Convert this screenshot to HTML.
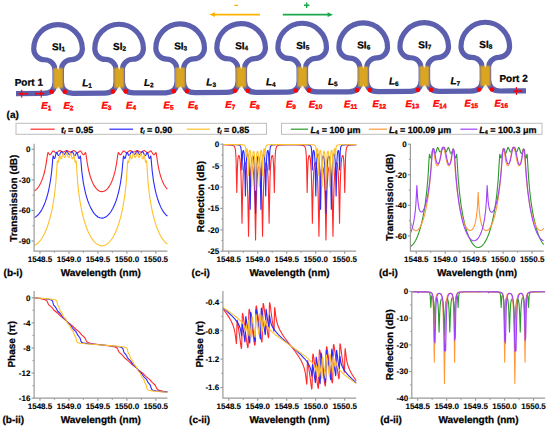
<!DOCTYPE html>
<html><head><meta charset="utf-8"><style>
html,body{margin:0;padding:0;background:#fff;}
svg{display:block;}
text{font-family:"Liberation Sans",sans-serif;font-weight:bold;fill:#000;stroke:#000;stroke-width:0.25px;text-rendering:geometricPrecision;}
.tk{font-size:8px;stroke-width:0.1px;}
.al{font-size:10px;}
.lg{font-size:9px;}
.si{font-size:10px;}
.lb{font-size:10px;}
.el{font-size:9.6px;font-style:italic;fill:#ff0000;stroke:#ff0000;stroke-width:0.35px;}
.pt{font-size:10px;}
</style></head><body>
<svg width="550" height="431" viewBox="0 0 550 431">
<defs>
<linearGradient id="goldv" x1="0" y1="0" x2="0" y2="1">
<stop offset="0" stop-color="#fff" stop-opacity="0"/>
<stop offset="0.1" stop-color="#fff" stop-opacity="1"/>
<stop offset="0.9" stop-color="#fff" stop-opacity="1"/>
<stop offset="1" stop-color="#fff" stop-opacity="0"/>
</linearGradient>
<linearGradient id="goldh" x1="0" y1="0" x2="1" y2="0">
<stop offset="0" stop-color="#daa520" stop-opacity="0.55"/>
<stop offset="0.22" stop-color="#daa520" stop-opacity="1"/>
<stop offset="0.78" stop-color="#daa520" stop-opacity="1"/>
<stop offset="1" stop-color="#daa520" stop-opacity="0.55"/>
</linearGradient>
<mask id="gm" maskContentUnits="objectBoundingBox"><rect width="1" height="1" fill="url(#goldv)"/></mask>
</defs>
<rect width="550" height="431" fill="#fff"/>
<g transform="rotate(-0.310 275 92.20)">
<path d="M16,92.2 L43.60,92.2 Q55.10,92.2 55.10,80.70 L55.10,68.80 A10.30,10.30 0 0 0 44.80,58.50 A10.80,10.80 0 0 1 34.00,47.70 A24.3,24.3 0 0 1 82.60,47.70 A10.80,10.80 0 0 1 71.80,58.50 A10.30,10.30 0 0 0 61.50,68.80 L61.50,80.70 Q61.50,92.2 73.00,92.2 L104.63,92.2 Q116.13,92.2 116.13,80.70 L116.13,68.80 A10.30,10.30 0 0 0 105.83,58.50 A10.80,10.80 0 0 1 95.03,47.70 A24.3,24.3 0 0 1 143.63,47.70 A10.80,10.80 0 0 1 132.83,58.50 A10.30,10.30 0 0 0 122.53,68.80 L122.53,80.70 Q122.53,92.2 134.03,92.2 L165.66,92.2 Q177.16,92.2 177.16,80.70 L177.16,68.80 A10.30,10.30 0 0 0 166.86,58.50 A10.80,10.80 0 0 1 156.06,47.70 A24.3,24.3 0 0 1 204.66,47.70 A10.80,10.80 0 0 1 193.86,58.50 A10.30,10.30 0 0 0 183.56,68.80 L183.56,80.70 Q183.56,92.2 195.06,92.2 L226.69,92.2 Q238.19,92.2 238.19,80.70 L238.19,68.80 A10.30,10.30 0 0 0 227.89,58.50 A10.80,10.80 0 0 1 217.09,47.70 A24.3,24.3 0 0 1 265.69,47.70 A10.80,10.80 0 0 1 254.89,58.50 A10.30,10.30 0 0 0 244.59,68.80 L244.59,80.70 Q244.59,92.2 256.09,92.2 L287.72,92.2 Q299.22,92.2 299.22,80.70 L299.22,68.80 A10.30,10.30 0 0 0 288.92,58.50 A10.80,10.80 0 0 1 278.12,47.70 A24.3,24.3 0 0 1 326.72,47.70 A10.80,10.80 0 0 1 315.92,58.50 A10.30,10.30 0 0 0 305.62,68.80 L305.62,80.70 Q305.62,92.2 317.12,92.2 L348.75,92.2 Q360.25,92.2 360.25,80.70 L360.25,68.80 A10.30,10.30 0 0 0 349.95,58.50 A10.80,10.80 0 0 1 339.15,47.70 A24.3,24.3 0 0 1 387.75,47.70 A10.80,10.80 0 0 1 376.95,58.50 A10.30,10.30 0 0 0 366.65,68.80 L366.65,80.70 Q366.65,92.2 378.15,92.2 L409.78,92.2 Q421.28,92.2 421.28,80.70 L421.28,68.80 A10.30,10.30 0 0 0 410.98,58.50 A10.80,10.80 0 0 1 400.18,47.70 A24.3,24.3 0 0 1 448.78,47.70 A10.80,10.80 0 0 1 437.98,58.50 A10.30,10.30 0 0 0 427.68,68.80 L427.68,80.70 Q427.68,92.2 439.18,92.2 L470.81,92.2 Q482.31,92.2 482.31,80.70 L482.31,68.80 A10.30,10.30 0 0 0 472.01,58.50 A10.80,10.80 0 0 1 461.21,47.70 A24.3,24.3 0 0 1 509.81,47.70 A10.80,10.80 0 0 1 499.01,58.50 A10.30,10.30 0 0 0 488.71,68.80 L488.71,80.70 Q488.71,92.2 500.21,92.2 L526,92.2" stroke="#5c5fae" stroke-width="5.2" fill="none" stroke-linejoin="round"/>
<rect x="52.90" y="65.90" width="10.8" height="22.3" fill="url(#goldh)" mask="url(#gm)"/>
<path d="M57.00,65.70 L59.60,65.70 L58.30,69.20 Z M56.80,89.70 L59.80,89.70 L58.30,85.20 Z" fill="#fdf6dc" opacity="0.85"/>
<circle cx="51.80" cy="90.60" r="2.3" fill="#ff0000"/>
<circle cx="64.80" cy="90.60" r="2.3" fill="#ff0000"/>
<rect x="113.93" y="65.90" width="10.8" height="22.3" fill="url(#goldh)" mask="url(#gm)"/>
<path d="M118.03,65.70 L120.63,65.70 L119.33,69.20 Z M117.83,89.70 L120.83,89.70 L119.33,85.20 Z" fill="#fdf6dc" opacity="0.85"/>
<circle cx="112.83" cy="90.60" r="2.3" fill="#ff0000"/>
<circle cx="125.83" cy="90.60" r="2.3" fill="#ff0000"/>
<rect x="174.96" y="65.90" width="10.8" height="22.3" fill="url(#goldh)" mask="url(#gm)"/>
<path d="M179.06,65.70 L181.66,65.70 L180.36,69.20 Z M178.86,89.70 L181.86,89.70 L180.36,85.20 Z" fill="#fdf6dc" opacity="0.85"/>
<circle cx="173.86" cy="90.60" r="2.3" fill="#ff0000"/>
<circle cx="186.86" cy="90.60" r="2.3" fill="#ff0000"/>
<rect x="235.99" y="65.90" width="10.8" height="22.3" fill="url(#goldh)" mask="url(#gm)"/>
<path d="M240.09,65.70 L242.69,65.70 L241.39,69.20 Z M239.89,89.70 L242.89,89.70 L241.39,85.20 Z" fill="#fdf6dc" opacity="0.85"/>
<circle cx="234.89" cy="90.60" r="2.3" fill="#ff0000"/>
<circle cx="247.89" cy="90.60" r="2.3" fill="#ff0000"/>
<rect x="297.02" y="65.90" width="10.8" height="22.3" fill="url(#goldh)" mask="url(#gm)"/>
<path d="M301.12,65.70 L303.72,65.70 L302.42,69.20 Z M300.92,89.70 L303.92,89.70 L302.42,85.20 Z" fill="#fdf6dc" opacity="0.85"/>
<circle cx="295.92" cy="90.60" r="2.3" fill="#ff0000"/>
<circle cx="308.92" cy="90.60" r="2.3" fill="#ff0000"/>
<rect x="358.05" y="65.90" width="10.8" height="22.3" fill="url(#goldh)" mask="url(#gm)"/>
<path d="M362.15,65.70 L364.75,65.70 L363.45,69.20 Z M361.95,89.70 L364.95,89.70 L363.45,85.20 Z" fill="#fdf6dc" opacity="0.85"/>
<circle cx="356.95" cy="90.60" r="2.3" fill="#ff0000"/>
<circle cx="369.95" cy="90.60" r="2.3" fill="#ff0000"/>
<rect x="419.08" y="65.90" width="10.8" height="22.3" fill="url(#goldh)" mask="url(#gm)"/>
<path d="M423.18,65.70 L425.78,65.70 L424.48,69.20 Z M422.98,89.70 L425.98,89.70 L424.48,85.20 Z" fill="#fdf6dc" opacity="0.85"/>
<circle cx="417.98" cy="90.60" r="2.3" fill="#ff0000"/>
<circle cx="430.98" cy="90.60" r="2.3" fill="#ff0000"/>
<rect x="480.11" y="65.90" width="10.8" height="22.3" fill="url(#goldh)" mask="url(#gm)"/>
<path d="M484.21,65.70 L486.81,65.70 L485.51,69.20 Z M484.01,89.70 L487.01,89.70 L485.51,85.20 Z" fill="#fdf6dc" opacity="0.85"/>
<circle cx="479.01" cy="90.60" r="2.3" fill="#ff0000"/>
<circle cx="492.01" cy="90.60" r="2.3" fill="#ff0000"/>
<path d="M18.3,92.4 H28.1" stroke="#ff0000" stroke-width="1.2"/>
<path d="M21.7,88.4 V96.4" stroke="#ff0000" stroke-width="1.1"/>
<path d="M20.3,92.4 H23.099999999999998" stroke="#ff0000" stroke-width="2.2"/>
<circle cx="27.1" cy="92.4" r="1.1" fill="#ff0000"/>
<path d="M35.0,92.4 H44.4" stroke="#ff0000" stroke-width="1.2"/>
<path d="M41.2,88.4 V96.4" stroke="#ff0000" stroke-width="1.1"/>
<path d="M39.800000000000004,92.4 H42.6" stroke="#ff0000" stroke-width="2.2"/>
<circle cx="35.9" cy="92.4" r="1.1" fill="#ff0000"/>
<path d="M513,92.4 H522.3" stroke="#ff0000" stroke-width="1.2"/>
<path d="M516.4,88.4 V96.4" stroke="#ff0000" stroke-width="1.1"/>
<path d="M515.0,92.4 H517.8" stroke="#ff0000" stroke-width="2.2"/>
<circle cx="520.5" cy="92.4" r="1.1" fill="#ff0000"/>
<text x="52.30" y="49.00" class="si">SI<tspan font-size="6.5" dy="1.0">1</tspan></text>
<text x="113.33" y="49.00" class="si">SI<tspan font-size="6.5" dy="1.0">2</tspan></text>
<text x="174.36" y="49.00" class="si">SI<tspan font-size="6.5" dy="1.0">3</tspan></text>
<text x="235.39" y="49.00" class="si">SI<tspan font-size="6.5" dy="1.0">4</tspan></text>
<text x="296.42" y="49.00" class="si">SI<tspan font-size="6.5" dy="1.0">5</tspan></text>
<text x="357.45" y="49.00" class="si">SI<tspan font-size="6.5" dy="1.0">6</tspan></text>
<text x="418.48" y="49.00" class="si">SI<tspan font-size="6.5" dy="1.0">7</tspan></text>
<text x="479.51" y="49.00" class="si">SI<tspan font-size="6.5" dy="1.0">8</tspan></text>
<text x="82.2" y="85.20" class="lb"><tspan font-style="italic">L</tspan><tspan font-size="6.5" dy="1.5">1</tspan></text>
<text x="144" y="85.20" class="lb"><tspan font-style="italic">L</tspan><tspan font-size="6.5" dy="1.5">2</tspan></text>
<text x="206.4" y="85.20" class="lb"><tspan font-style="italic">L</tspan><tspan font-size="6.5" dy="1.5">3</tspan></text>
<text x="266" y="85.20" class="lb"><tspan font-style="italic">L</tspan><tspan font-size="6.5" dy="1.5">4</tspan></text>
<text x="328" y="85.20" class="lb"><tspan font-style="italic">L</tspan><tspan font-size="6.5" dy="1.5">5</tspan></text>
<text x="389" y="85.20" class="lb"><tspan font-style="italic">L</tspan><tspan font-size="6.5" dy="1.5">6</tspan></text>
<text x="450.5" y="85.20" class="lb"><tspan font-style="italic">L</tspan><tspan font-size="6.5" dy="1.5">7</tspan></text>
<text x="41.2" y="107.60" class="el">E<tspan font-size="6.5" font-style="normal" dy="1.5">1</tspan></text>
<text x="63.3" y="107.60" class="el">E<tspan font-size="6.5" font-style="normal" dy="1.5">2</tspan></text>
<text x="101.3" y="107.60" class="el">E<tspan font-size="6.5" font-style="normal" dy="1.5">3</tspan></text>
<text x="125.9" y="107.60" class="el">E<tspan font-size="6.5" font-style="normal" dy="1.5">4</tspan></text>
<text x="163.5" y="107.60" class="el">E<tspan font-size="6.5" font-style="normal" dy="1.5">5</tspan></text>
<text x="188.0" y="107.60" class="el">E<tspan font-size="6.5" font-style="normal" dy="1.5">6</tspan></text>
<text x="225.2" y="107.60" class="el">E<tspan font-size="6.5" font-style="normal" dy="1.5">7</tspan></text>
<text x="249.6" y="107.60" class="el">E<tspan font-size="6.5" font-style="normal" dy="1.5">8</tspan></text>
<text x="285.8" y="107.60" class="el">E<tspan font-size="6.5" font-style="normal" dy="1.5">9</tspan></text>
<text x="308.6" y="107.60" class="el">E<tspan font-size="6.5" font-style="normal" dy="1.5">10</tspan></text>
<text x="344.0" y="107.60" class="el">E<tspan font-size="6.5" font-style="normal" dy="1.5">11</tspan></text>
<text x="372.4" y="107.60" class="el">E<tspan font-size="6.5" font-style="normal" dy="1.5">12</tspan></text>
<text x="405.3" y="107.60" class="el">E<tspan font-size="6.5" font-style="normal" dy="1.5">13</tspan></text>
<text x="432.8" y="107.60" class="el">E<tspan font-size="6.5" font-style="normal" dy="1.5">14</tspan></text>
<text x="464.5" y="107.60" class="el">E<tspan font-size="6.5" font-style="normal" dy="1.5">15</tspan></text>
<text x="494.3" y="107.60" class="el">E<tspan font-size="6.5" font-style="normal" dy="1.5">16</tspan></text>
<text x="14.7" y="84.50" class="pt">Port 1</text>
<text x="499.5" y="83.20" class="pt">Port 2</text>
</g>
<text x="6.6" y="117.8" class="al">(a)</text>
<path d="M213,14.6 H260" stroke="#ffb300" stroke-width="1.8"/><path d="M209.3,14.6 L215,12.2 L215,17 Z" fill="#ffb300"/>
<path d="M234.4,5.4 H238" stroke="#ffb300" stroke-width="1.4"/>
<path d="M282.8,14.7 H329" stroke="#1aa84a" stroke-width="1.8"/><path d="M333,14.7 L327.6,12.3 L327.6,17.1 Z" fill="#1aa84a"/>
<path d="M304,5.3 H309.4 M306.7,2.6 V8" stroke="#1aa84a" stroke-width="1.4"/>
<path d="M34.20,191.00 L35.34,190.30 L36.47,189.35 L37.57,188.15 L38.63,186.74 L40.64,183.20 L42.45,178.85 L43.90,174.25 L45.16,169.02 L46.20,163.34 L47.51,154.39 L47.94,152.71 L48.11,152.57 L48.30,152.69 L49.42,154.51 L49.74,154.72 L50.05,154.75 L50.44,154.57 L50.86,154.14 L52.40,151.59 L53.04,150.97 L53.63,151.02 L55.25,152.40 L55.74,152.64 L56.24,152.70 L57.08,152.42 L58.93,150.89 L59.75,150.59 L60.49,150.79 L62.24,151.89 L63.16,152.10 L64.13,151.86 L65.85,150.79 L66.54,150.53 L67.37,150.65 L69.31,151.83 L70.32,152.10 L71.21,151.91 L73.06,150.77 L73.86,150.60 L74.62,150.93 L76.40,152.41 L77.32,152.70 L78.16,152.46 L79.72,151.12 L80.33,150.93 L80.68,151.10 L81.04,151.50 L82.70,154.22 L83.12,154.61 L83.51,154.76 L83.83,154.69 L84.15,154.45 L85.16,152.74 L85.34,152.58 L85.50,152.62 L85.73,153.12 L85.97,154.25 L87.42,164.07 L88.67,170.49 L90.19,176.24 L91.97,181.20 L93.04,183.55 L94.18,185.64 L95.37,187.42 L96.60,188.90 L97.88,190.07 L99.18,190.93 L100.50,191.45 L101.83,191.64 L103.17,191.50 L104.51,191.02 L105.82,190.21 L107.11,189.07 L108.37,187.60 L109.57,185.84 L110.73,183.76 L111.82,181.42 L113.63,176.44 L115.18,170.64 L116.44,164.19 L117.91,154.20 L118.16,153.09 L118.41,152.60 L118.72,152.75 L119.71,154.42 L120.03,154.68 L120.36,154.76 L120.75,154.62 L121.17,154.23 L122.85,151.50 L123.23,151.09 L123.59,150.93 L124.18,151.13 L125.72,152.45 L126.57,152.70 L127.48,152.41 L129.26,150.93 L130.03,150.60 L130.83,150.76 L132.70,151.91 L133.56,152.10 L134.59,151.83 L136.53,150.65 L137.36,150.53 L138.05,150.79 L139.79,151.87 L140.76,152.10 L141.64,151.90 L143.45,150.78 L144.22,150.59 L145.02,150.91 L146.84,152.42 L147.75,152.70 L148.61,152.44 L150.13,151.13 L150.69,150.92 L151.05,151.06 L151.44,151.48 L153.15,154.24 L153.57,154.63 L153.98,154.76 L154.31,154.67 L154.63,154.39 L155.57,152.78 L155.86,152.58 L156.14,153.03 L156.41,154.26 L157.70,163.08 L158.64,168.32 L159.63,172.65 L160.74,176.59 L162.20,180.69 L163.81,184.18 L165.55,187.05 L167.40,189.26" stroke="#ff2a2a" stroke-width="1.1" fill="none" stroke-linejoin="round"/>
<path d="M223.00,144.76 L229.36,144.93 L232.50,145.32 L233.42,145.67 L234.10,146.18 L234.61,146.91 L235.00,147.92 L235.34,149.45 L235.61,151.62 L236.03,158.57 L236.78,192.55 L237.33,169.91 L237.77,160.63 L238.10,157.50 L238.52,155.79 L238.77,155.49 L239.01,155.57 L239.52,156.85 L239.97,159.44 L240.34,163.14 L240.97,174.72 L241.37,189.27 L242.00,223.16 L242.69,188.67 L243.31,172.88 L243.78,167.22 L244.33,163.81 L244.64,162.89 L244.98,162.56 L245.33,162.84 L245.66,163.71 L246.18,166.43 L246.64,170.68 L247.38,183.56 L247.87,200.30 L248.54,236.22 L249.28,198.17 L249.99,179.40 L250.49,172.67 L251.10,168.28 L251.44,167.03 L251.80,166.38 L251.97,166.31 L252.16,166.41 L252.52,167.11 L253.07,169.62 L253.55,173.62 L254.35,186.63 L254.88,204.27 L255.55,239.95 L256.20,205.00 L256.68,188.47 L257.40,175.30 L257.83,170.97 L258.33,168.01 L258.70,166.79 L259.08,166.32 L259.46,166.58 L259.83,167.59 L260.50,171.69 L261.05,178.40 L261.45,186.63 L261.80,197.50 L262.55,236.21 L263.19,201.78 L263.61,186.36 L264.23,173.55 L264.61,169.01 L265.03,165.69 L265.38,163.94 L265.74,162.90 L266.12,162.56 L266.49,162.97 L266.83,164.03 L267.14,165.81 L267.68,171.27 L268.06,178.13 L268.37,187.40 L269.11,223.15 L269.97,179.71 L270.40,168.60 L270.95,161.00 L271.49,157.27 L271.79,156.14 L272.11,155.55 L272.41,155.54 L272.70,156.11 L273.18,158.92 L273.72,168.28 L274.33,192.53 L274.86,165.51 L275.25,154.85 L275.54,151.16 L275.90,148.73 L276.40,147.11 L277.09,146.09 L277.73,145.65 L278.58,145.33 L281.35,144.95 L287.34,144.77 L296.01,144.80 L300.10,144.95 L302.49,145.23 L303.92,145.74 L304.82,146.62 L305.35,147.84 L305.74,149.66 L306.29,156.07 L306.63,165.86 L307.16,192.55 L307.70,170.31 L308.07,161.62 L308.36,158.34 L308.71,156.34 L309.13,155.50 L309.36,155.54 L309.59,155.90 L310.12,157.90 L310.56,161.34 L311.27,172.77 L311.74,188.41 L312.37,223.16 L313.05,189.47 L313.63,173.98 L314.05,168.27 L314.56,164.50 L314.85,163.34 L315.15,162.70 L315.47,162.58 L315.81,163.02 L316.38,165.25 L316.89,169.15 L317.33,174.62 L317.70,181.83 L318.25,199.66 L318.93,236.22 L319.66,198.82 L320.32,180.49 L320.80,173.62 L321.38,168.92 L321.70,167.46 L322.05,166.57 L322.39,166.32 L322.74,166.68 L323.33,168.81 L323.86,172.66 L324.32,178.35 L324.71,185.72 L325.26,203.15 L325.95,239.95 L326.62,204.27 L327.14,187.00 L327.92,173.96 L328.40,169.83 L328.94,167.26 L329.30,166.47 L329.49,166.32 L329.68,166.36 L330.04,166.94 L330.39,168.18 L330.99,172.45 L331.51,179.26 L332.22,197.78 L332.98,236.22 L333.63,200.87 L334.12,183.90 L334.84,171.03 L335.29,166.75 L335.79,163.99 L336.12,162.99 L336.47,162.57 L336.81,162.78 L337.15,163.63 L337.71,166.92 L338.19,172.53 L338.83,188.35 L339.54,223.16 L340.14,189.81 L340.55,175.05 L341.14,163.68 L341.50,159.90 L341.92,157.24 L342.45,155.67 L342.71,155.48 L342.97,155.70 L343.40,157.30 L343.75,160.38 L344.20,169.71 L344.75,192.54 L345.49,159.19 L345.86,152.37 L346.41,148.41 L346.76,147.28 L347.21,146.46 L347.79,145.88 L348.57,145.47 L349.63,145.20 L351.12,145.00 L356.20,144.79" stroke="#ff2a2a" stroke-width="1.1" fill="none" stroke-linejoin="round"/>
<path d="M34.20,297.78 L39.53,298.50 L42.93,299.11 L45.09,299.72 L46.42,300.47 L47.24,301.49 L48.32,303.92 L48.90,304.87 L51.79,307.45 L54.34,310.54 L58.10,313.55 L61.46,316.87 L65.23,319.73 L68.44,322.80 L72.21,325.66 L75.59,329.01 L78.95,331.64 L81.73,334.96 L84.57,337.47 L85.16,338.41 L86.37,341.08 L86.89,341.74 L87.54,342.24 L89.46,343.00 L92.76,343.69 L108.02,345.71 L112.32,346.39 L114.97,347.03 L116.57,347.78 L117.12,348.26 L117.57,348.88 L118.71,351.44 L119.29,352.37 L122.16,354.91 L124.94,358.23 L128.29,360.85 L131.70,364.21 L135.45,367.06 L138.69,370.14 L142.45,373.00 L145.81,376.32 L149.59,379.34 L152.14,382.42 L155.04,384.99 L155.61,385.93 L156.69,388.36 L157.48,389.36 L158.64,390.06 L160.46,390.63 L163.26,391.18 L167.40,391.79" stroke="#ff2a2a" stroke-width="1.1" fill="none" stroke-linejoin="round"/>
<path d="M223.00,308.96 L226.53,313.65 L229.18,317.60 L231.25,321.26 L232.85,324.83 L233.97,328.26 L234.83,332.00 L235.39,335.61 L236.36,343.73 L236.61,340.33 L237.00,322.45 L237.13,320.48 L237.29,320.13 L239.61,335.91 L241.01,346.90 L241.39,348.57 L241.60,347.39 L241.76,343.77 L242.27,316.78 L242.44,313.99 L242.55,313.46 L242.68,313.41 L243.20,316.09 L247.29,345.29 L247.63,347.18 L247.86,347.73 L248.09,346.67 L248.26,343.33 L248.76,315.43 L248.93,310.98 L249.16,309.26 L249.28,309.23 L249.42,309.60 L249.78,311.50 L254.16,342.16 L254.56,344.51 L254.85,345.24 L255.10,344.07 L255.27,340.70 L255.76,312.55 L255.94,307.91 L256.16,306.06 L256.29,305.94 L256.43,306.25 L256.82,308.25 L261.19,338.91 L261.60,341.27 L261.87,341.98 L262.12,340.81 L262.29,337.35 L262.77,309.99 L263.10,303.76 L263.22,303.46 L263.37,303.63 L263.73,305.40 L267.94,335.38 L268.26,337.26 L268.49,337.85 L268.71,336.69 L268.88,332.85 L269.37,306.27 L269.53,303.40 L269.74,302.67 L270.10,304.37 L271.49,315.27 L273.80,331.11 L273.89,331.14 L273.98,330.74 L274.11,328.68 L274.50,310.78 L274.61,308.22 L274.76,307.55 L275.80,316.33 L276.63,321.00 L277.92,325.53 L279.73,329.79 L281.84,333.60 L284.61,337.76 L294.78,351.04 L298.11,355.69 L300.81,360.07 L302.80,364.18 L304.12,367.88 L305.11,371.91 L305.76,375.97 L306.71,384.14 L306.86,383.56 L306.97,381.13 L307.38,362.84 L307.51,360.91 L307.58,360.58 L307.67,360.59 L309.99,376.40 L311.40,387.50 L311.77,389.09 L311.98,387.98 L312.16,383.95 L312.63,357.88 L312.79,354.86 L313.00,353.92 L313.23,354.51 L313.55,356.41 L317.76,386.40 L318.12,388.18 L318.27,388.37 L318.38,388.09 L318.57,386.07 L318.73,381.39 L319.19,354.62 L319.37,351.09 L319.61,349.87 L319.89,350.56 L320.29,352.91 L324.68,383.70 L325.07,385.69 L325.22,386.00 L325.35,385.88 L325.56,384.01 L325.74,379.35 L326.23,351.24 L326.40,347.89 L326.65,346.72 L326.94,347.46 L327.34,349.81 L331.73,380.60 L332.09,382.49 L332.24,382.85 L332.35,382.81 L332.57,381.25 L332.75,377.06 L333.25,348.68 L333.43,345.40 L333.66,344.37 L333.89,344.94 L334.22,346.83 L338.33,376.17 L338.86,378.82 L338.99,378.75 L339.09,378.20 L339.26,375.32 L339.75,348.86 L339.93,344.81 L340.14,343.69 L340.52,345.38 L341.91,356.28 L344.24,372.22 L344.33,372.25 L344.41,371.83 L344.54,369.73 L344.94,351.84 L345.18,348.66 L346.60,359.80 L347.34,363.31 L348.28,366.49 L349.60,369.80 L351.31,373.17 L353.46,376.72 L356.20,380.66" stroke="#ff2a2a" stroke-width="1.1" fill="none" stroke-linejoin="round"/>
<path d="M34.20,217.60 L35.94,216.67 L37.65,215.28 L39.31,213.44 L40.92,211.16 L42.47,208.45 L43.93,205.35 L45.30,201.88 L46.59,198.02 L47.72,194.05 L48.77,189.73 L50.50,180.46 L51.66,171.61 L52.86,157.85 L53.14,156.06 L53.24,156.00 L53.34,156.18 L53.98,158.16 L54.19,158.45 L54.43,158.49 L54.73,158.18 L55.06,157.43 L56.16,153.22 L56.57,152.37 L56.74,152.38 L56.95,152.63 L58.06,155.04 L58.41,155.40 L58.77,155.50 L59.15,155.32 L59.55,154.82 L60.81,152.12 L61.27,151.52 L61.53,151.52 L61.82,151.77 L63.26,154.10 L63.63,154.40 L64.01,154.49 L64.40,154.36 L64.81,154.00 L66.20,151.72 L66.75,151.30 L67.30,151.71 L68.70,154.01 L69.09,154.36 L69.48,154.49 L69.86,154.40 L70.25,154.09 L71.67,151.78 L71.96,151.52 L72.22,151.52 L72.68,152.12 L73.94,154.82 L74.35,155.32 L74.72,155.50 L75.09,155.41 L75.43,155.04 L76.55,152.64 L76.75,152.38 L76.93,152.37 L77.33,153.21 L78.43,157.41 L78.76,158.17 L79.08,158.49 L79.31,158.44 L79.53,158.15 L80.17,156.16 L80.27,156.00 L80.36,156.05 L80.63,157.79 L81.92,172.34 L83.27,182.12 L84.21,187.23 L85.28,192.06 L86.48,196.58 L87.80,200.74 L89.28,204.64 L90.87,208.11 L92.55,211.09 L94.31,213.57 L96.14,215.53 L98.01,216.94 L99.92,217.81 L101.84,218.12 L103.78,217.86 L105.69,217.04 L107.59,215.66 L109.43,213.74 L111.21,211.27 L112.90,208.31 L114.51,204.85 L116.00,200.96 L117.32,196.85 L118.54,192.32 L119.62,187.49 L120.58,182.34 L121.94,172.55 L123.26,157.75 L123.55,156.02 L123.73,156.21 L124.37,158.18 L124.60,158.47 L124.85,158.47 L125.15,158.12 L125.49,157.32 L126.53,153.30 L126.90,152.42 L127.09,152.36 L127.31,152.59 L128.50,155.10 L128.84,155.43 L129.21,155.50 L129.57,155.30 L129.93,154.84 L131.25,152.04 L131.77,151.49 L132.26,151.83 L133.61,154.04 L134.00,154.38 L134.39,154.49 L134.81,154.36 L135.23,153.97 L136.56,151.77 L137.02,151.32 L137.33,151.34 L137.65,151.64 L139.15,154.06 L139.53,154.38 L139.91,154.49 L140.28,154.40 L140.67,154.07 L142.06,151.80 L142.34,151.53 L142.58,151.50 L143.08,152.08 L144.38,154.85 L144.78,155.33 L145.18,155.51 L145.52,155.39 L145.86,155.04 L146.97,152.64 L147.17,152.38 L147.36,152.38 L147.77,153.26 L148.78,157.19 L149.32,158.35 L149.58,158.51 L149.84,158.34 L150.62,156.10 L150.75,156.01 L150.87,156.32 L152.23,171.22 L153.46,180.63 L155.25,190.10 L156.31,194.40 L157.48,198.45 L159.65,204.49 L160.83,207.13 L162.06,209.51 L163.33,211.61 L164.65,213.43 L166.01,214.97 L167.40,216.21" stroke="#2a2aff" stroke-width="1.1" fill="none" stroke-linejoin="round"/>
<path d="M223.00,144.57 L232.25,144.64 L236.94,144.82 L239.17,145.19 L239.81,145.49 L240.27,145.94 L240.63,146.63 L240.90,147.59 L241.27,150.88 L241.91,169.91 L242.56,153.45 L242.97,150.84 L243.24,150.48 L243.53,150.82 L243.86,152.09 L244.14,154.12 L244.59,161.12 L245.40,195.97 L245.93,171.47 L246.34,161.12 L246.64,157.36 L247.00,155.06 L247.45,154.02 L247.70,154.05 L247.93,154.43 L248.34,156.01 L248.70,158.79 L249.25,167.66 L249.61,179.71 L250.19,209.35 L250.80,179.11 L251.29,165.69 L251.64,160.95 L252.07,157.76 L252.59,156.22 L252.87,156.12 L253.14,156.47 L253.59,158.11 L253.97,160.90 L254.56,170.16 L254.95,182.85 L255.55,213.36 L256.44,172.39 L256.95,162.85 L257.27,159.65 L257.63,157.48 L257.92,156.53 L258.23,156.12 L258.53,156.26 L258.82,156.92 L259.33,159.73 L259.73,164.44 L260.27,177.90 L260.92,209.33 L261.73,170.83 L262.15,161.87 L262.70,156.37 L263.22,154.31 L263.50,154.00 L263.77,154.16 L264.25,155.84 L264.64,159.37 L265.12,169.78 L265.71,195.97 L266.35,165.77 L266.64,158.48 L266.98,153.89 L267.32,151.67 L267.69,150.59 L267.88,150.49 L268.07,150.69 L268.39,152.06 L268.74,156.67 L269.20,169.90 L269.62,155.26 L269.90,150.01 L270.37,146.91 L270.75,146.05 L271.29,145.50 L271.97,145.17 L272.96,144.95 L276.58,144.70 L298.94,144.60 L304.70,144.69 L307.89,144.87 L309.59,145.20 L310.55,145.81 L310.94,146.45 L311.23,147.37 L311.64,150.62 L312.29,169.91 L312.75,156.60 L313.10,152.03 L313.42,150.68 L313.60,150.49 L313.81,150.61 L314.20,151.82 L314.53,154.18 L314.86,158.77 L315.14,165.80 L315.78,195.97 L316.33,171.35 L316.69,161.82 L316.96,158.04 L317.30,155.52 L317.70,154.19 L317.92,153.99 L318.15,154.11 L318.60,155.35 L318.99,157.83 L319.60,166.60 L319.99,178.96 L320.58,209.35 L321.19,179.29 L321.65,166.31 L321.99,161.47 L322.39,158.18 L322.87,156.41 L323.13,156.12 L323.41,156.24 L323.88,157.56 L324.29,160.15 L324.94,169.58 L325.35,182.38 L325.95,213.36 L326.53,183.49 L326.92,170.52 L327.52,161.06 L327.90,158.20 L328.33,156.54 L328.60,156.14 L328.89,156.20 L329.17,156.73 L329.42,157.66 L329.85,160.75 L330.21,165.58 L330.70,178.83 L331.33,209.35 L331.89,180.12 L332.25,167.90 L332.80,158.90 L333.15,156.16 L333.56,154.50 L333.79,154.08 L334.03,154.01 L334.27,154.30 L334.48,154.94 L334.86,157.23 L335.16,160.87 L335.57,170.87 L336.13,195.97 L336.91,161.59 L337.35,154.46 L337.62,152.29 L337.96,150.91 L338.26,150.48 L338.54,150.78 L338.96,153.35 L339.62,169.91 L340.24,151.06 L340.61,147.73 L340.85,146.75 L341.19,146.04 L341.61,145.58 L342.20,145.24 L344.17,144.86 L348.24,144.67 L356.20,144.58" stroke="#2a2aff" stroke-width="1.1" fill="none" stroke-linejoin="round"/>
<path d="M34.20,297.78 L42.68,298.55 L47.69,299.15 L50.55,299.75 L51.40,300.09 L51.99,300.50 L52.66,301.56 L53.34,304.10 L53.70,305.02 L55.73,307.42 L57.45,310.80 L58.07,311.52 L60.25,313.50 L62.64,317.04 L65.63,319.71 L67.99,323.03 L70.99,325.69 L73.38,329.24 L75.93,331.63 L76.48,332.50 L77.78,335.19 L79.76,337.51 L80.13,338.38 L80.95,341.29 L81.38,341.97 L81.99,342.44 L82.90,342.83 L84.22,343.16 L88.64,343.81 L110.88,345.81 L116.93,346.47 L120.36,347.07 L121.40,347.40 L122.13,347.78 L122.62,348.25 L122.98,348.89 L123.75,351.66 L124.11,352.55 L126.11,354.88 L127.41,357.57 L127.96,358.44 L130.51,360.82 L132.91,364.39 L135.91,367.05 L138.27,370.36 L141.27,373.02 L143.66,376.56 L145.84,378.56 L146.46,379.27 L148.20,382.67 L150.23,385.06 L150.58,385.94 L151.27,388.52 L151.89,389.53 L152.44,389.94 L153.21,390.27 L155.73,390.84 L160.16,391.41 L167.40,392.09" stroke="#2a2aff" stroke-width="1.1" fill="none" stroke-linejoin="round"/>
<path d="M223.00,307.87 L228.31,312.48 L232.18,316.14 L235.18,319.39 L237.43,322.38 L239.00,325.12 L240.10,327.94 L240.79,330.82 L241.58,335.92 L241.76,334.15 L242.07,324.69 L242.27,323.41 L243.67,332.47 L244.70,340.87 L244.93,341.99 L245.08,341.22 L245.21,338.31 L245.62,319.07 L245.73,317.12 L245.89,316.57 L248.24,332.86 L249.35,341.70 L249.65,343.04 L249.83,342.11 L249.96,339.40 L250.38,317.12 L250.51,313.75 L250.68,312.32 L250.84,312.51 L251.04,313.62 L254.62,340.02 L255.00,341.68 L255.17,340.77 L255.32,337.81 L255.74,314.97 L256.04,309.61 L256.13,309.51 L256.21,309.69 L256.43,310.85 L260.01,337.25 L260.37,338.92 L260.54,338.07 L260.69,335.14 L261.09,313.41 L261.35,308.36 L261.43,308.16 L261.51,308.25 L261.71,309.27 L262.89,318.53 L264.97,333.53 L265.23,334.65 L265.38,333.98 L265.49,331.86 L265.90,312.57 L266.01,310.04 L266.17,309.23 L267.42,318.72 L268.84,327.83 L269.04,326.38 L269.33,317.23 L269.52,315.31 L270.43,321.05 L271.40,324.48 L272.14,326.21 L273.05,327.91 L275.50,331.38 L278.38,334.62 L282.17,338.31 L296.27,350.62 L300.92,354.89 L304.66,358.77 L307.39,362.22 L309.16,365.16 L310.39,368.16 L311.16,371.25 L311.95,376.45 L312.14,374.79 L312.45,365.32 L312.65,363.95 L314.07,373.09 L315.31,382.58 L315.47,381.76 L315.59,379.24 L315.99,359.96 L316.11,357.84 L316.25,357.17 L316.52,358.29 L318.60,373.30 L319.77,382.56 L319.98,383.61 L320.06,383.72 L320.13,383.54 L320.41,378.11 L320.80,356.94 L320.95,353.89 L321.12,352.97 L321.50,354.69 L325.06,381.02 L325.27,382.22 L325.36,382.44 L325.45,382.39 L325.62,380.89 L325.75,377.50 L326.19,354.15 L326.33,351.20 L326.51,350.30 L326.88,351.96 L330.46,378.39 L330.66,379.52 L330.82,379.75 L330.99,378.43 L331.14,374.69 L331.56,352.50 L331.69,349.90 L331.86,349.04 L332.15,350.32 L333.27,359.17 L335.63,375.59 L335.79,375.07 L335.92,372.78 L336.31,353.99 L336.44,351.00 L336.58,350.20 L336.81,351.29 L337.86,359.80 L339.26,368.85 L339.46,367.49 L339.77,358.03 L339.96,356.35 L340.71,361.31 L341.33,364.03 L342.32,366.74 L343.71,369.37 L345.70,372.22 L348.34,375.29 L351.73,378.72 L356.20,382.84" stroke="#2a2aff" stroke-width="1.1" fill="none" stroke-linejoin="round"/>
<path d="M34.20,245.39 L36.40,244.26 L38.57,242.47 L40.67,240.04 L42.70,236.97 L44.64,233.30 L46.46,229.07 L48.17,224.30 L49.76,218.98 L51.18,213.33 L52.46,207.29 L53.60,200.78 L54.59,193.96 L55.99,180.66 L57.32,160.92 L57.38,160.84 L57.45,160.93 L57.93,162.42 L58.12,162.46 L58.31,162.14 L58.71,160.37 L59.38,155.71 L59.59,155.00 L59.83,155.35 L60.56,158.26 L60.83,158.74 L61.10,158.85 L61.40,158.52 L61.71,157.76 L62.58,154.04 L62.85,153.33 L63.03,153.33 L63.20,153.66 L64.18,156.92 L64.49,157.41 L64.79,157.55 L65.11,157.33 L65.43,156.74 L66.41,153.41 L66.75,152.88 L67.08,153.40 L68.06,156.74 L68.38,157.33 L68.70,157.55 L69.01,157.42 L69.31,156.93 L70.29,153.67 L70.47,153.33 L70.64,153.33 L70.92,154.04 L71.80,157.80 L72.10,158.55 L72.41,158.85 L72.67,158.74 L72.93,158.27 L73.67,155.36 L73.90,154.99 L74.13,155.77 L74.78,160.35 L75.19,162.13 L75.38,162.46 L75.56,162.43 L76.06,160.91 L76.13,160.84 L76.19,160.96 L77.75,183.42 L78.65,191.85 L79.76,199.91 L81.17,207.92 L82.79,215.31 L84.61,222.02 L86.64,228.03 L88.29,232.05 L90.03,235.59 L91.85,238.64 L93.73,241.16 L95.67,243.15 L97.67,244.61 L99.70,245.51 L101.74,245.85 L102.94,245.79 L104.13,245.53 L105.32,245.08 L106.49,244.44 L108.81,242.59 L111.07,240.00 L113.24,236.68 L115.29,232.69 L117.23,228.04 L119.04,222.75 L120.45,217.85 L121.74,212.57 L122.91,206.93 L123.95,200.99 L125.14,192.66 L126.11,183.72 L126.77,175.41 L127.64,161.28 L127.82,160.88 L128.37,162.47 L128.54,162.44 L128.71,162.10 L129.08,160.54 L129.93,155.09 L130.06,154.99 L130.19,155.25 L130.97,158.29 L131.22,158.74 L131.46,158.86 L131.77,158.58 L132.07,157.86 L132.99,154.01 L133.29,153.30 L133.45,153.35 L133.61,153.69 L134.56,156.88 L134.87,157.39 L135.19,157.55 L135.49,157.36 L135.79,156.83 L136.85,153.32 L137.04,152.95 L137.23,152.91 L137.52,153.49 L138.46,156.70 L138.81,157.35 L139.14,157.56 L139.46,157.37 L139.76,156.83 L140.69,153.72 L140.99,153.29 L141.31,153.97 L142.25,157.92 L142.57,158.63 L142.87,158.86 L143.12,158.70 L143.37,158.21 L144.09,155.33 L144.32,155.00 L144.58,155.97 L145.26,160.71 L145.61,162.14 L145.78,162.45 L145.96,162.46 L146.49,160.87 L146.65,161.19 L147.85,179.72 L149.19,192.77 L150.11,199.42 L151.17,205.69 L152.36,211.59 L153.67,217.12 L155.08,222.12 L156.58,226.69 L158.19,230.82 L159.89,234.47 L161.67,237.66 L163.52,240.34 L165.43,242.51 L167.40,244.15" stroke="#ffc12a" stroke-width="1.1" fill="none" stroke-linejoin="round"/>
<path d="M223.00,144.50 L241.18,144.67 L243.72,144.94 L244.40,145.19 L244.85,145.57 L245.28,146.50 L245.56,148.15 L246.06,157.29 L246.44,151.13 L246.67,149.14 L246.87,148.59 L247.09,148.68 L247.50,150.61 L247.90,157.33 L248.38,175.27 L249.06,154.67 L249.47,151.07 L249.74,150.32 L249.89,150.23 L250.05,150.35 L250.33,151.16 L250.60,152.76 L251.00,158.41 L251.72,186.63 L252.20,165.90 L252.52,157.66 L253.04,152.49 L253.39,151.43 L253.58,151.30 L253.77,151.44 L254.08,152.35 L254.36,154.06 L254.79,160.18 L255.55,190.31 L256.24,161.59 L256.59,155.51 L257.05,152.17 L257.26,151.57 L257.47,151.31 L257.69,151.41 L257.89,151.85 L258.24,153.67 L258.52,156.70 L258.86,164.80 L259.38,186.63 L260.01,160.58 L260.30,154.94 L260.66,151.67 L261.01,150.43 L261.19,150.24 L261.37,150.33 L261.69,151.34 L261.95,153.47 L262.25,159.19 L262.71,175.28 L263.22,156.62 L263.65,150.18 L264.05,148.62 L264.25,148.62 L264.44,149.19 L265.03,157.30 L265.39,150.04 L265.64,147.38 L266.06,145.86 L266.38,145.43 L266.84,145.12 L268.72,144.75 L272.98,144.58 L301.59,144.52 L312.01,144.69 L313.95,144.91 L314.98,145.32 L315.56,146.15 L315.91,147.80 L316.46,157.30 L317.05,149.20 L317.24,148.62 L317.46,148.64 L317.86,150.38 L318.28,156.93 L318.77,175.27 L319.24,159.31 L319.56,153.36 L319.82,151.29 L320.13,150.32 L320.32,150.24 L320.51,150.47 L320.84,151.72 L321.21,155.05 L321.50,160.78 L322.12,186.64 L322.61,165.62 L322.90,158.04 L323.39,152.77 L323.71,151.58 L323.88,151.33 L324.07,151.34 L324.42,152.07 L324.71,153.64 L325.17,159.64 L325.95,190.31 L326.71,160.19 L327.14,154.07 L327.42,152.35 L327.74,151.44 L327.92,151.30 L328.11,151.43 L328.46,152.48 L328.98,157.59 L329.30,165.73 L329.79,186.63 L330.50,158.56 L330.89,152.94 L331.15,151.26 L331.44,150.39 L331.60,150.24 L331.75,150.29 L332.02,150.97 L332.44,154.51 L333.12,175.28 L333.63,156.87 L334.02,150.60 L334.42,148.68 L334.64,148.59 L334.84,149.13 L335.08,151.11 L335.45,157.30 L335.94,148.32 L336.21,146.62 L336.63,145.63 L337.05,145.24 L337.67,144.98 L339.98,144.69 L356.20,144.50" stroke="#ffc12a" stroke-width="1.1" fill="none" stroke-linejoin="round"/>
<path d="M34.20,297.78 L45.36,298.60 L51.56,299.20 L54.85,299.78 L55.76,300.11 L56.37,300.54 L56.93,301.60 L57.68,305.06 L59.04,307.39 L60.19,310.91 L62.17,313.43 L63.32,316.28 L63.78,317.15 L65.99,319.65 L67.59,323.15 L69.82,325.67 L71.42,329.41 L73.23,331.62 L74.46,335.31 L75.83,337.65 L76.69,341.43 L77.07,342.06 L77.65,342.51 L78.60,342.88 L80.08,343.20 L85.24,343.82 L113.28,345.88 L120.64,346.53 L124.60,347.11 L125.73,347.42 L126.48,347.79 L126.90,348.20 L127.21,348.76 L128.06,352.50 L129.44,354.87 L130.65,358.53 L132.48,360.76 L134.07,364.46 L136.30,366.98 L137.91,370.50 L140.14,373.01 L141.73,376.71 L143.73,379.25 L144.87,382.77 L146.23,385.09 L146.97,388.49 L147.52,389.57 L148.09,390.00 L148.93,390.33 L151.92,390.89 L157.55,391.47 L167.40,392.21" stroke="#ffc12a" stroke-width="1.1" fill="none" stroke-linejoin="round"/>
<path d="M223.00,307.46 L229.65,312.07 L234.42,315.57 L238.10,318.54 L240.87,321.12 L242.84,323.42 L244.20,325.61 L245.02,327.72 L245.80,331.03 L245.95,330.28 L246.21,325.87 L246.35,325.36 L247.06,329.18 L248.03,335.72 L248.24,333.50 L248.55,321.90 L248.76,320.11 L251.30,337.57 L251.52,335.30 L251.87,319.91 L252.10,316.33 L252.35,317.21 L254.88,336.02 L255.11,337.09 L255.36,334.23 L255.71,317.95 L255.94,314.16 L256.04,314.20 L256.18,314.95 L258.73,333.87 L258.96,334.90 L259.20,332.24 L259.53,317.27 L259.73,313.74 L259.83,313.69 L259.96,314.33 L260.77,320.74 L262.34,331.09 L262.54,329.37 L262.86,317.79 L263.06,315.49 L264.06,322.19 L264.76,325.87 L264.90,325.23 L265.15,320.98 L265.29,320.19 L266.20,323.91 L267.35,326.43 L269.33,329.14 L272.28,332.10 L275.67,334.94 L280.17,338.36 L297.29,350.43 L302.98,354.58 L307.51,358.18 L310.81,361.19 L312.98,363.66 L314.49,366.01 L315.39,368.23 L316.18,371.62 L316.34,370.86 L316.60,366.46 L316.75,365.98 L317.46,369.82 L318.43,376.37 L318.63,374.16 L318.95,362.58 L319.15,360.77 L320.71,371.11 L321.54,377.62 L321.67,378.23 L321.77,378.14 L321.97,374.41 L322.31,359.50 L322.54,357.02 L322.77,358.09 L325.32,377.02 L325.46,377.77 L325.56,377.81 L325.80,373.99 L326.14,357.74 L326.39,354.89 L326.62,355.96 L329.15,374.79 L329.40,375.72 L329.63,372.30 L329.98,356.91 L330.20,354.48 L332.75,371.98 L332.95,370.45 L333.28,358.56 L333.48,356.41 L334.45,362.97 L335.16,366.80 L335.31,366.30 L335.57,361.91 L335.71,361.15 L336.47,364.36 L337.23,366.40 L338.48,368.53 L340.26,370.73 L342.75,373.21 L346.07,376.05 L350.35,379.38 L356.20,383.67" stroke="#ffc12a" stroke-width="1.1" fill="none" stroke-linejoin="round"/>
<path d="M410.50,246.65 L412.24,245.26 L413.95,243.17 L415.61,240.41 L417.22,237.00 L418.77,232.93 L420.23,228.28 L421.60,223.07 L422.89,217.29 L424.02,211.33 L425.07,204.86 L426.80,190.94 L427.96,177.67 L429.16,157.03 L429.44,154.35 L429.54,154.26 L429.64,154.53 L430.28,157.50 L430.49,157.93 L430.73,157.99 L431.03,157.53 L431.36,156.40 L432.46,150.09 L432.87,148.81 L433.04,148.83 L433.25,149.21 L434.36,152.82 L434.71,153.36 L435.07,153.51 L435.45,153.24 L435.85,152.49 L437.11,148.44 L437.57,147.54 L437.83,147.53 L438.12,147.92 L439.56,151.41 L439.93,151.86 L440.31,152.00 L440.70,151.80 L441.11,151.25 L442.50,147.83 L442.79,147.36 L443.05,147.21 L443.31,147.35 L443.60,147.83 L445.00,151.27 L445.39,151.80 L445.78,152.00 L446.16,151.86 L446.55,151.39 L447.97,147.92 L448.26,147.53 L448.52,147.54 L448.98,148.43 L450.24,152.48 L450.65,153.23 L451.02,153.51 L451.39,153.37 L451.73,152.82 L452.85,149.22 L453.05,148.83 L453.23,148.81 L453.63,150.07 L454.73,156.38 L455.06,157.51 L455.38,158.00 L455.61,157.92 L455.83,157.48 L456.47,154.50 L456.57,154.25 L456.66,154.33 L456.93,156.94 L458.22,178.76 L459.57,193.43 L460.51,201.11 L461.58,208.35 L462.78,215.13 L464.10,221.37 L465.58,227.21 L467.17,232.42 L468.85,236.89 L470.61,240.62 L472.44,243.55 L474.31,245.67 L475.26,246.43 L476.22,246.97 L477.17,247.30 L478.14,247.43 L479.11,247.35 L480.08,247.05 L481.04,246.54 L481.99,245.82 L483.89,243.75 L485.73,240.86 L487.51,237.17 L489.20,232.73 L490.81,227.54 L492.30,221.70 L493.62,215.53 L494.84,208.74 L495.92,201.49 L496.88,193.77 L498.24,179.08 L499.56,156.88 L499.85,154.29 L499.93,154.27 L500.03,154.57 L500.67,157.53 L500.90,157.96 L501.15,157.97 L501.45,157.43 L501.79,156.24 L502.83,150.21 L503.20,148.88 L503.39,148.79 L503.61,149.14 L504.80,152.91 L505.14,153.40 L505.51,153.50 L505.87,153.20 L506.23,152.52 L507.55,148.32 L507.82,147.72 L508.07,147.50 L508.30,147.59 L508.56,148.00 L509.91,151.32 L510.30,151.83 L510.69,152.00 L511.11,151.79 L511.53,151.22 L512.86,147.92 L513.32,147.24 L513.63,147.27 L513.95,147.72 L515.45,151.35 L515.83,151.82 L516.21,152.00 L516.58,151.85 L516.97,151.37 L518.36,147.96 L518.64,147.56 L518.88,147.51 L519.38,148.37 L520.68,152.53 L521.08,153.26 L521.48,153.52 L521.82,153.35 L522.16,152.82 L523.27,149.22 L523.47,148.83 L523.66,148.83 L524.07,150.14 L525.08,156.05 L525.62,157.79 L525.88,158.02 L526.14,157.77 L526.92,154.41 L527.05,154.27 L527.17,154.73 L528.53,177.08 L529.76,191.20 L530.60,198.48 L531.55,205.40 L532.61,211.86 L533.78,217.94 L535.95,226.99 L537.13,230.95 L538.36,234.52 L539.63,237.67 L540.95,240.41 L542.31,242.72 L543.70,244.57" stroke="#2a9a2a" stroke-width="1.1" fill="none" stroke-linejoin="round"/>
<path d="M411.90,291.73 L425.84,291.89 L428.07,292.11 L429.17,292.58 L429.53,293.02 L429.80,293.61 L430.17,295.67 L430.81,307.52 L431.46,297.27 L431.87,295.64 L432.14,295.42 L432.43,295.62 L432.76,296.41 L433.04,297.68 L433.49,302.05 L434.30,323.77 L434.83,308.50 L435.24,302.04 L435.54,299.70 L435.90,298.27 L436.35,297.62 L436.60,297.64 L436.83,297.88 L437.24,298.86 L437.60,300.59 L438.15,306.12 L438.51,313.63 L439.09,332.10 L439.70,313.26 L440.19,304.89 L440.54,301.94 L440.97,299.95 L441.49,298.99 L441.77,298.93 L442.04,299.15 L442.49,300.17 L442.87,301.91 L443.46,307.68 L443.85,315.59 L444.45,334.61 L445.34,309.07 L445.85,303.12 L446.17,301.13 L446.53,299.78 L446.82,299.19 L447.13,298.93 L447.43,299.01 L447.72,299.43 L448.23,301.18 L448.63,304.12 L449.17,312.50 L449.82,332.09 L450.63,308.10 L451.05,302.51 L451.60,299.08 L452.12,297.80 L452.40,297.60 L452.67,297.71 L453.15,298.75 L453.54,300.95 L454.02,307.44 L454.61,323.77 L455.25,304.95 L455.54,300.40 L455.88,297.54 L456.22,296.16 L456.59,295.48 L456.78,295.42 L456.97,295.54 L457.29,296.40 L457.64,299.27 L458.10,307.52 L458.52,298.39 L458.80,295.12 L459.27,293.19 L459.65,292.66 L460.19,292.31 L461.86,291.97 L465.48,291.81 L487.84,291.75 L496.79,291.92 L498.49,292.12 L499.45,292.50 L499.84,292.90 L500.13,293.48 L500.54,295.50 L501.19,307.52 L501.65,299.23 L502.00,296.38 L502.32,295.54 L502.50,295.42 L502.71,295.50 L503.10,296.25 L503.43,297.72 L503.76,300.58 L504.04,304.96 L504.68,323.77 L505.23,308.42 L505.59,302.48 L505.86,300.12 L506.20,298.56 L506.60,297.72 L506.82,297.60 L507.05,297.68 L507.50,298.45 L507.89,300.00 L508.50,305.46 L508.89,313.17 L509.48,332.10 L510.09,313.37 L510.55,305.28 L510.89,302.26 L511.29,300.21 L511.77,299.11 L512.03,298.93 L512.31,299.00 L512.78,299.83 L513.19,301.44 L513.84,307.32 L514.25,315.29 L514.85,334.61 L515.43,315.99 L515.82,307.90 L516.42,302.01 L516.80,300.23 L517.23,299.19 L517.50,298.94 L517.79,298.98 L518.32,299.89 L518.75,301.81 L519.11,304.82 L519.60,313.08 L520.23,332.10 L520.79,313.89 L521.15,306.27 L521.70,300.66 L522.05,298.95 L522.46,297.92 L522.69,297.66 L522.93,297.61 L523.38,298.19 L523.76,299.62 L524.06,301.89 L524.47,308.12 L525.03,323.77 L525.81,302.34 L526.25,297.90 L526.52,296.54 L526.86,295.68 L527.16,295.42 L527.44,295.60 L527.86,297.20 L528.52,307.52 L529.14,295.77 L529.51,293.70 L530.09,292.65 L531.10,292.15 L533.07,291.91 L545.10,291.74" stroke="#2a9a2a" stroke-width="1.1" fill="none" stroke-linejoin="round"/>
<path d="M410.50,221.62 L411.48,225.22 L412.63,227.92 L413.27,228.94 L413.93,229.73 L414.64,230.28 L415.36,230.58 L416.10,230.64 L416.87,230.45 L417.64,230.02 L418.42,229.33 L419.97,227.27 L421.49,224.30 L423.30,219.43 L424.99,213.35 L426.54,206.15 L427.92,197.97 L428.96,190.20 L429.89,181.62 L430.74,171.68 L431.97,154.42 L432.26,151.62 L432.55,150.07 L432.78,149.50 L433.06,149.26 L433.30,149.42 L433.53,149.96 L433.95,151.99 L435.07,159.51 L435.71,162.63 L436.14,164.10 L436.58,165.09 L437.02,165.64 L437.49,165.75 L437.94,165.44 L438.40,164.70 L439.31,162.01 L439.98,159.03 L441.34,151.25 L441.89,148.84 L442.42,147.70 L442.74,147.46 L443.13,147.41 L443.51,147.56 L443.83,147.93 L444.38,149.48 L446.13,159.11 L447.03,162.90 L447.81,164.93 L448.20,165.49 L448.59,165.75 L449.06,165.65 L449.52,165.09 L449.95,164.10 L450.39,162.63 L451.01,159.59 L452.14,151.99 L452.57,149.91 L452.81,149.40 L453.05,149.26 L453.31,149.49 L453.54,150.06 L453.83,151.60 L454.12,154.38 L455.40,172.19 L456.31,182.60 L457.34,191.79 L458.51,200.09 L460.04,208.58 L461.77,215.88 L463.65,221.86 L464.63,224.30 L465.63,226.34 L466.82,228.24 L468.01,229.58 L469.18,230.36 L470.34,230.57 L471.45,230.20 L472.51,229.27 L473.49,227.77 L474.39,225.72 L475.13,223.38 L475.77,220.67 L476.80,213.93 L477.45,206.37 L478.20,192.19 L478.88,205.21 L479.39,211.86 L480.15,218.03 L481.17,223.03 L481.82,225.24 L482.54,227.09 L483.34,228.58 L484.19,229.68 L485.09,230.37 L486.03,230.67 L487.00,230.56 L488.00,230.04 L489.23,228.86 L490.45,227.10 L491.65,224.78 L492.82,221.92 L493.95,218.55 L495.04,214.68 L497.02,205.62 L498.56,196.20 L499.87,185.52 L500.97,173.61 L502.38,154.18 L502.67,151.48 L502.97,149.96 L503.20,149.44 L503.46,149.26 L503.71,149.45 L503.93,149.97 L504.35,152.01 L505.46,159.52 L506.10,162.64 L506.53,164.10 L506.97,165.09 L507.42,165.64 L507.88,165.75 L508.33,165.45 L508.79,164.71 L509.71,162.03 L510.39,158.98 L511.73,151.29 L512.28,148.87 L512.80,147.73 L513.11,147.48 L513.48,147.40 L513.87,147.53 L514.19,147.86 L514.76,149.37 L516.55,159.17 L517.47,162.99 L518.25,164.97 L518.64,165.51 L519.03,165.75 L519.49,165.63 L519.94,165.07 L520.38,164.08 L520.81,162.60 L521.45,159.47 L522.55,152.06 L522.97,150.00 L523.18,149.46 L523.40,149.27 L523.65,149.37 L523.88,149.80 L524.20,151.20 L524.49,153.73 L526.14,176.09 L527.61,190.58 L528.51,197.28 L529.50,203.42 L530.58,209.08 L531.74,214.11 L533.15,219.09 L534.62,223.22 L536.16,226.48 L537.73,228.82 L538.53,229.63 L539.33,230.19 L540.11,230.48 L540.88,230.53 L541.63,230.31 L542.35,229.84 L543.05,229.11 L543.70,228.15" stroke="#ff9a3a" stroke-width="1.1" fill="none" stroke-linejoin="round"/>
<path d="M411.90,291.74 L423.99,291.81 L428.98,292.08 L430.30,292.35 L431.20,292.79 L431.82,293.46 L432.27,294.46 L432.66,296.25 L432.97,299.03 L433.41,308.72 L434.30,362.10 L435.07,316.11 L435.43,305.46 L435.88,299.07 L436.18,296.88 L436.57,295.27 L437.06,294.20 L437.73,293.53 L438.82,293.22 L439.96,293.50 L440.80,294.25 L441.44,295.52 L442.04,298.07 L442.51,301.95 L442.90,307.73 L443.23,315.61 L443.77,337.59 L444.45,383.39 L445.20,333.64 L445.87,310.40 L446.29,303.15 L446.81,298.34 L447.49,295.44 L447.94,294.49 L448.47,293.83 L449.28,293.35 L450.22,293.23 L451.08,293.48 L451.74,294.08 L452.21,294.95 L452.57,296.16 L453.12,300.09 L453.53,306.71 L453.86,317.23 L454.61,362.12 L455.20,321.26 L455.61,304.94 L455.87,299.85 L456.20,296.46 L456.64,294.42 L457.27,293.19 L457.93,292.64 L458.85,292.28 L462.18,291.90 L478.14,291.75 L479.09,291.87 L479.60,292.37 L480.03,291.91 L480.61,291.77 L487.66,291.75 L495.28,291.84 L499.06,292.04 L501.06,292.49 L501.68,292.86 L502.16,293.38 L502.74,294.73 L503.14,296.92 L503.46,300.56 L503.71,305.80 L504.08,321.44 L504.68,362.10 L505.43,317.13 L505.78,306.33 L506.20,299.76 L506.79,295.86 L507.20,294.67 L507.70,293.88 L508.50,293.34 L509.48,293.23 L510.44,293.55 L511.19,294.25 L511.64,295.03 L512.02,296.09 L512.63,299.31 L513.10,304.45 L513.49,311.92 L514.12,334.72 L514.85,383.38 L515.52,338.17 L516.04,316.37 L516.38,308.24 L516.77,302.26 L517.23,298.24 L517.81,295.69 L518.45,294.34 L519.29,293.53 L520.43,293.22 L521.02,293.29 L521.54,293.51 L522.22,294.17 L522.73,295.24 L523.12,296.82 L523.44,299.10 L523.89,305.52 L524.25,316.18 L525.02,362.12 L525.90,308.80 L526.34,299.26 L526.63,296.47 L526.99,294.66 L527.41,293.61 L527.99,292.90 L528.81,292.43 L530.01,292.13 L534.43,291.84 L545.10,291.74" stroke="#ff9a3a" stroke-width="1.1" fill="none" stroke-linejoin="round"/>
<path d="M410.50,233.37 L411.82,229.67 L412.98,225.38 L413.97,220.52 L414.80,215.17 L415.42,209.71 L415.91,203.76 L416.86,185.50 L417.57,197.49 L418.06,202.95 L418.84,207.77 L419.32,209.51 L419.84,210.78 L420.49,211.70 L421.20,212.07 L421.95,211.89 L422.75,211.16 L423.56,209.91 L424.38,208.13 L426.01,203.13 L427.71,195.42 L429.21,185.92 L430.61,173.25 L432.32,152.32 L432.72,149.71 L432.96,149.06 L433.25,148.68 L433.55,148.55 L433.81,148.68 L434.24,149.77 L435.71,158.34 L436.50,161.72 L437.24,163.45 L437.62,163.87 L438.01,163.98 L438.44,163.76 L438.89,163.13 L439.79,160.73 L440.57,157.38 L441.90,150.22 L442.44,148.24 L442.77,147.60 L443.15,147.31 L443.89,147.26 L444.38,147.50 L444.81,148.26 L445.23,149.76 L446.75,158.17 L447.56,161.69 L448.40,163.94 L448.82,164.52 L449.24,164.73 L449.66,164.55 L450.08,163.95 L450.87,161.61 L451.43,158.78 L452.46,151.82 L452.85,149.90 L453.05,149.41 L453.27,149.22 L453.54,149.34 L453.79,149.74 L454.12,151.08 L454.41,153.64 L456.01,176.63 L457.45,191.75 L459.26,205.07 L460.31,211.06 L461.42,216.50 L462.77,222.03 L464.20,226.89 L465.72,231.09 L467.30,234.56 L468.93,237.29 L470.61,239.26 L471.45,239.94 L472.31,240.43 L473.16,240.72 L474.02,240.81 L475.33,240.54 L476.64,239.76 L477.90,238.51 L479.11,236.77 L480.27,234.57 L481.36,231.93 L482.36,228.88 L483.25,225.49 L484.66,218.25 L485.71,209.81 L486.40,200.97 L487.15,185.61 L488.10,200.64 L488.60,204.92 L489.22,208.25 L490.04,210.74 L490.52,211.56 L491.03,212.06 L491.58,212.26 L492.14,212.15 L492.72,211.74 L493.33,211.02 L494.05,209.79 L494.78,208.18 L496.20,203.89 L497.54,198.28 L498.77,191.54 L499.70,185.11 L500.54,177.90 L501.35,169.24 L502.58,153.56 L502.89,150.90 L503.19,149.45 L503.48,148.85 L503.87,148.57 L504.19,148.69 L504.45,149.17 L504.91,151.15 L506.09,158.31 L506.71,161.11 L507.56,163.37 L508.01,163.89 L508.46,164.00 L508.89,163.72 L509.34,163.05 L510.23,160.60 L510.99,157.27 L512.27,150.40 L512.75,148.50 L513.30,147.47 L513.63,147.28 L514.11,147.24 L514.53,147.33 L514.83,147.56 L515.34,148.62 L517.83,161.18 L518.70,163.73 L519.13,164.43 L519.55,164.73 L519.98,164.64 L520.42,164.11 L521.23,161.82 L521.82,158.92 L522.89,151.71 L523.30,149.80 L523.53,149.32 L523.78,149.23 L524.07,149.47 L524.31,150.02 L524.60,151.50 L524.86,154.01 L526.38,176.08 L527.74,190.57 L529.48,203.75 L530.48,209.68 L531.57,215.19 L532.84,220.64 L534.22,225.55 L535.68,229.85 L537.20,233.44 L538.78,236.35 L540.40,238.54 L542.05,239.99 L542.87,240.44 L543.70,240.69" stroke="#a040ff" stroke-width="1.1" fill="none" stroke-linejoin="round"/>
<path d="M411.90,291.73 L417.33,291.83 L417.84,292.06 L418.26,292.82 L418.73,292.02 L419.47,291.81 L424.90,291.83 L428.78,292.04 L430.16,292.26 L431.11,292.61 L431.78,293.13 L432.27,293.91 L432.63,295.00 L432.92,296.55 L433.36,301.53 L433.76,312.87 L434.30,339.86 L434.40,340.89 L434.60,339.78 L434.66,339.72 L434.70,339.86 L435.01,342.94 L435.82,310.42 L436.17,303.05 L436.60,298.34 L436.90,296.56 L437.27,295.27 L437.71,294.36 L438.28,293.76 L439.12,293.42 L440.06,293.51 L440.86,293.98 L441.48,294.79 L442.10,296.45 L442.58,298.93 L442.97,302.53 L443.30,307.54 L443.80,320.69 L444.51,351.07 L445.03,344.06 L445.21,345.20 L445.52,350.63 L445.58,350.89 L445.63,350.24 L446.36,317.57 L446.69,308.77 L447.08,302.47 L447.44,299.03 L447.89,296.56 L448.47,294.88 L449.22,293.86 L449.91,293.46 L450.67,293.35 L451.38,293.52 L451.98,293.98 L452.41,294.66 L452.76,295.60 L453.28,298.49 L453.64,302.83 L453.94,309.67 L454.70,340.20 L454.96,338.28 L455.03,338.18 L455.16,338.37 L455.20,338.21 L455.29,336.78 L455.80,310.75 L456.20,300.01 L456.45,297.08 L456.75,295.13 L457.16,293.82 L457.71,293.00 L458.26,292.59 L459.01,292.29 L461.46,291.95 L466.27,291.79 L476.11,291.73 L487.36,291.80 L488.08,292.01 L488.56,292.81 L489.01,292.04 L489.63,291.82 L497.22,291.90 L500.36,292.22 L501.29,292.51 L501.95,292.93 L502.59,293.78 L503.06,295.16 L503.39,297.16 L503.66,300.24 L504.13,311.97 L504.68,339.76 L504.78,341.06 L504.98,340.05 L505.04,339.97 L505.08,340.07 L505.39,343.08 L505.55,339.92 L506.17,311.44 L506.49,304.10 L506.86,299.34 L507.38,296.15 L507.72,295.10 L508.14,294.31 L508.69,293.74 L509.35,293.45 L510.12,293.43 L510.86,293.69 L511.39,294.11 L511.84,294.73 L512.55,296.65 L513.09,299.75 L513.51,304.32 L514.13,318.37 L514.91,351.24 L515.26,345.56 L515.43,344.36 L515.62,345.60 L515.91,350.77 L515.97,351.06 L516.01,350.71 L516.65,321.39 L517.14,307.75 L517.46,302.75 L517.84,299.10 L518.30,296.54 L518.89,294.84 L519.49,293.99 L520.24,293.49 L521.15,293.35 L521.98,293.62 L522.54,294.17 L522.98,295.01 L523.61,297.85 L524.02,302.21 L524.34,308.95 L525.12,340.37 L525.38,338.51 L525.45,338.41 L525.57,338.57 L525.61,338.45 L525.71,336.78 L526.19,311.82 L526.54,301.48 L526.93,296.59 L527.19,295.06 L527.52,293.96 L527.97,293.17 L528.58,292.65 L529.43,292.29 L530.65,292.06 L535.04,291.82 L545.10,291.74" stroke="#a040ff" stroke-width="1.1" fill="none" stroke-linejoin="round"/>
<path d="M34.10,143.70 V251.20 H167.40" stroke="#9a9a9a" stroke-width="1.2" fill="none"/>
<path d="M31.60,149.30 H34.10" stroke="#9a9a9a" stroke-width="1.2"/>
<text x="30.4" y="152.20" text-anchor="end" class="tk">0</text>
<path d="M31.60,179.87 H34.10" stroke="#9a9a9a" stroke-width="1.2"/>
<text x="30.4" y="182.77" text-anchor="end" class="tk">-30</text>
<path d="M31.60,210.44 H34.10" stroke="#9a9a9a" stroke-width="1.2"/>
<text x="30.4" y="213.34" text-anchor="end" class="tk">-60</text>
<path d="M31.60,241.01 H34.10" stroke="#9a9a9a" stroke-width="1.2"/>
<text x="30.4" y="243.91" text-anchor="end" class="tk">-90</text>
<path d="M32.60,164.58 H34.10" stroke="#9a9a9a" stroke-width="1.2"/>
<path d="M32.60,195.15 H34.10" stroke="#9a9a9a" stroke-width="1.2"/>
<path d="M32.60,225.72 H34.10" stroke="#9a9a9a" stroke-width="1.2"/>
<path d="M39.99,251.20 V253.70" stroke="#9a9a9a" stroke-width="1.2"/>
<text x="39.99" y="262.00" text-anchor="middle" class="tk">1548.5</text>
<path d="M68.95,251.20 V253.70" stroke="#9a9a9a" stroke-width="1.2"/>
<text x="68.95" y="262.00" text-anchor="middle" class="tk">1549.0</text>
<path d="M97.90,251.20 V253.70" stroke="#9a9a9a" stroke-width="1.2"/>
<text x="97.90" y="262.00" text-anchor="middle" class="tk">1549.5</text>
<path d="M126.86,251.20 V253.70" stroke="#9a9a9a" stroke-width="1.2"/>
<text x="126.86" y="262.00" text-anchor="middle" class="tk">1550.0</text>
<path d="M155.82,251.20 V253.70" stroke="#9a9a9a" stroke-width="1.2"/>
<text x="155.82" y="262.00" text-anchor="middle" class="tk">1550.5</text>
<path d="M54.47,251.20 V252.70" stroke="#9a9a9a" stroke-width="1.2"/>
<path d="M83.43,251.20 V252.70" stroke="#9a9a9a" stroke-width="1.2"/>
<path d="M112.38,251.20 V252.70" stroke="#9a9a9a" stroke-width="1.2"/>
<path d="M141.34,251.20 V252.70" stroke="#9a9a9a" stroke-width="1.2"/>
<path d="M222.90,143.70 V251.20 H356.20" stroke="#9a9a9a" stroke-width="1.2" fill="none"/>
<path d="M220.40,144.20 H222.90" stroke="#9a9a9a" stroke-width="1.2"/>
<text x="219.2" y="147.10" text-anchor="end" class="tk">0</text>
<path d="M220.40,165.60 H222.90" stroke="#9a9a9a" stroke-width="1.2"/>
<text x="219.2" y="168.50" text-anchor="end" class="tk">-5</text>
<path d="M220.40,187.00 H222.90" stroke="#9a9a9a" stroke-width="1.2"/>
<text x="219.2" y="189.90" text-anchor="end" class="tk">-10</text>
<path d="M220.40,208.40 H222.90" stroke="#9a9a9a" stroke-width="1.2"/>
<text x="219.2" y="211.30" text-anchor="end" class="tk">-15</text>
<path d="M220.40,229.80 H222.90" stroke="#9a9a9a" stroke-width="1.2"/>
<text x="219.2" y="232.70" text-anchor="end" class="tk">-20</text>
<path d="M220.40,251.20 H222.90" stroke="#9a9a9a" stroke-width="1.2"/>
<text x="219.2" y="254.10" text-anchor="end" class="tk">-25</text>
<path d="M221.40,154.90 H222.90" stroke="#9a9a9a" stroke-width="1.2"/>
<path d="M221.40,176.30 H222.90" stroke="#9a9a9a" stroke-width="1.2"/>
<path d="M221.40,197.70 H222.90" stroke="#9a9a9a" stroke-width="1.2"/>
<path d="M221.40,219.10 H222.90" stroke="#9a9a9a" stroke-width="1.2"/>
<path d="M221.40,240.50 H222.90" stroke="#9a9a9a" stroke-width="1.2"/>
<path d="M228.79,251.20 V253.70" stroke="#9a9a9a" stroke-width="1.2"/>
<text x="228.79" y="262.00" text-anchor="middle" class="tk">1548.5</text>
<path d="M257.75,251.20 V253.70" stroke="#9a9a9a" stroke-width="1.2"/>
<text x="257.75" y="262.00" text-anchor="middle" class="tk">1549.0</text>
<path d="M286.70,251.20 V253.70" stroke="#9a9a9a" stroke-width="1.2"/>
<text x="286.70" y="262.00" text-anchor="middle" class="tk">1549.5</text>
<path d="M315.66,251.20 V253.70" stroke="#9a9a9a" stroke-width="1.2"/>
<text x="315.66" y="262.00" text-anchor="middle" class="tk">1550.0</text>
<path d="M344.62,251.20 V253.70" stroke="#9a9a9a" stroke-width="1.2"/>
<text x="344.62" y="262.00" text-anchor="middle" class="tk">1550.5</text>
<path d="M243.27,251.20 V252.70" stroke="#9a9a9a" stroke-width="1.2"/>
<path d="M272.23,251.20 V252.70" stroke="#9a9a9a" stroke-width="1.2"/>
<path d="M301.18,251.20 V252.70" stroke="#9a9a9a" stroke-width="1.2"/>
<path d="M330.14,251.20 V252.70" stroke="#9a9a9a" stroke-width="1.2"/>
<path d="M410.40,143.70 V251.20 H543.70" stroke="#9a9a9a" stroke-width="1.2" fill="none"/>
<path d="M407.90,144.20 H410.40" stroke="#9a9a9a" stroke-width="1.2"/>
<text x="406.7" y="147.10" text-anchor="end" class="tk">0</text>
<path d="M407.90,174.77 H410.40" stroke="#9a9a9a" stroke-width="1.2"/>
<text x="406.7" y="177.67" text-anchor="end" class="tk">-20</text>
<path d="M407.90,205.34 H410.40" stroke="#9a9a9a" stroke-width="1.2"/>
<text x="406.7" y="208.24" text-anchor="end" class="tk">-40</text>
<path d="M407.90,235.91 H410.40" stroke="#9a9a9a" stroke-width="1.2"/>
<text x="406.7" y="238.81" text-anchor="end" class="tk">-60</text>
<path d="M408.90,159.49 H410.40" stroke="#9a9a9a" stroke-width="1.2"/>
<path d="M408.90,190.06 H410.40" stroke="#9a9a9a" stroke-width="1.2"/>
<path d="M408.90,220.63 H410.40" stroke="#9a9a9a" stroke-width="1.2"/>
<path d="M416.29,251.20 V253.70" stroke="#9a9a9a" stroke-width="1.2"/>
<text x="416.29" y="262.00" text-anchor="middle" class="tk">1548.5</text>
<path d="M445.25,251.20 V253.70" stroke="#9a9a9a" stroke-width="1.2"/>
<text x="445.25" y="262.00" text-anchor="middle" class="tk">1549.0</text>
<path d="M474.20,251.20 V253.70" stroke="#9a9a9a" stroke-width="1.2"/>
<text x="474.20" y="262.00" text-anchor="middle" class="tk">1549.5</text>
<path d="M503.16,251.20 V253.70" stroke="#9a9a9a" stroke-width="1.2"/>
<text x="503.16" y="262.00" text-anchor="middle" class="tk">1550.0</text>
<path d="M532.12,251.20 V253.70" stroke="#9a9a9a" stroke-width="1.2"/>
<text x="532.12" y="262.00" text-anchor="middle" class="tk">1550.5</text>
<path d="M430.77,251.20 V252.70" stroke="#9a9a9a" stroke-width="1.2"/>
<path d="M459.73,251.20 V252.70" stroke="#9a9a9a" stroke-width="1.2"/>
<path d="M488.68,251.20 V252.70" stroke="#9a9a9a" stroke-width="1.2"/>
<path d="M517.64,251.20 V252.70" stroke="#9a9a9a" stroke-width="1.2"/>
<path d="M34.10,291.00 V398.20 H167.40" stroke="#9a9a9a" stroke-width="1.2" fill="none"/>
<path d="M31.60,297.78 H34.10" stroke="#9a9a9a" stroke-width="1.2"/>
<text x="30.4" y="300.68" text-anchor="end" class="tk">0</text>
<path d="M31.60,322.88 H34.10" stroke="#9a9a9a" stroke-width="1.2"/>
<text x="30.4" y="325.78" text-anchor="end" class="tk">-4</text>
<path d="M31.60,347.99 H34.10" stroke="#9a9a9a" stroke-width="1.2"/>
<text x="30.4" y="350.89" text-anchor="end" class="tk">-8</text>
<path d="M31.60,373.09 H34.10" stroke="#9a9a9a" stroke-width="1.2"/>
<text x="30.4" y="375.99" text-anchor="end" class="tk">-12</text>
<path d="M31.60,398.20 H34.10" stroke="#9a9a9a" stroke-width="1.2"/>
<text x="30.4" y="401.10" text-anchor="end" class="tk">-16</text>
<path d="M32.60,310.33 H34.10" stroke="#9a9a9a" stroke-width="1.2"/>
<path d="M32.60,335.44 H34.10" stroke="#9a9a9a" stroke-width="1.2"/>
<path d="M32.60,360.54 H34.10" stroke="#9a9a9a" stroke-width="1.2"/>
<path d="M32.60,385.65 H34.10" stroke="#9a9a9a" stroke-width="1.2"/>
<path d="M39.99,398.20 V400.70" stroke="#9a9a9a" stroke-width="1.2"/>
<text x="39.99" y="409.00" text-anchor="middle" class="tk">1548.5</text>
<path d="M68.95,398.20 V400.70" stroke="#9a9a9a" stroke-width="1.2"/>
<text x="68.95" y="409.00" text-anchor="middle" class="tk">1549.0</text>
<path d="M97.90,398.20 V400.70" stroke="#9a9a9a" stroke-width="1.2"/>
<text x="97.90" y="409.00" text-anchor="middle" class="tk">1549.5</text>
<path d="M126.86,398.20 V400.70" stroke="#9a9a9a" stroke-width="1.2"/>
<text x="126.86" y="409.00" text-anchor="middle" class="tk">1550.0</text>
<path d="M155.82,398.20 V400.70" stroke="#9a9a9a" stroke-width="1.2"/>
<text x="155.82" y="409.00" text-anchor="middle" class="tk">1550.5</text>
<path d="M54.47,398.20 V399.70" stroke="#9a9a9a" stroke-width="1.2"/>
<path d="M83.43,398.20 V399.70" stroke="#9a9a9a" stroke-width="1.2"/>
<path d="M112.38,398.20 V399.70" stroke="#9a9a9a" stroke-width="1.2"/>
<path d="M141.34,398.20 V399.70" stroke="#9a9a9a" stroke-width="1.2"/>
<path d="M222.90,291.00 V398.20 H356.20" stroke="#9a9a9a" stroke-width="1.2" fill="none"/>
<path d="M220.40,302.17 H222.90" stroke="#9a9a9a" stroke-width="1.2"/>
<text x="219.2" y="305.07" text-anchor="end" class="tk">-0.4</text>
<path d="M220.40,330.62 H222.90" stroke="#9a9a9a" stroke-width="1.2"/>
<text x="219.2" y="333.52" text-anchor="end" class="tk">-0.8</text>
<path d="M220.40,359.08 H222.90" stroke="#9a9a9a" stroke-width="1.2"/>
<text x="219.2" y="361.98" text-anchor="end" class="tk">-1.2</text>
<path d="M220.40,387.53 H222.90" stroke="#9a9a9a" stroke-width="1.2"/>
<text x="219.2" y="390.43" text-anchor="end" class="tk">-1.6</text>
<path d="M221.40,316.40 H222.90" stroke="#9a9a9a" stroke-width="1.2"/>
<path d="M221.40,344.85 H222.90" stroke="#9a9a9a" stroke-width="1.2"/>
<path d="M221.40,373.30 H222.90" stroke="#9a9a9a" stroke-width="1.2"/>
<path d="M228.79,398.20 V400.70" stroke="#9a9a9a" stroke-width="1.2"/>
<text x="228.79" y="409.00" text-anchor="middle" class="tk">1548.5</text>
<path d="M257.75,398.20 V400.70" stroke="#9a9a9a" stroke-width="1.2"/>
<text x="257.75" y="409.00" text-anchor="middle" class="tk">1549.0</text>
<path d="M286.70,398.20 V400.70" stroke="#9a9a9a" stroke-width="1.2"/>
<text x="286.70" y="409.00" text-anchor="middle" class="tk">1549.5</text>
<path d="M315.66,398.20 V400.70" stroke="#9a9a9a" stroke-width="1.2"/>
<text x="315.66" y="409.00" text-anchor="middle" class="tk">1550.0</text>
<path d="M344.62,398.20 V400.70" stroke="#9a9a9a" stroke-width="1.2"/>
<text x="344.62" y="409.00" text-anchor="middle" class="tk">1550.5</text>
<path d="M243.27,398.20 V399.70" stroke="#9a9a9a" stroke-width="1.2"/>
<path d="M272.23,398.20 V399.70" stroke="#9a9a9a" stroke-width="1.2"/>
<path d="M301.18,398.20 V399.70" stroke="#9a9a9a" stroke-width="1.2"/>
<path d="M330.14,398.20 V399.70" stroke="#9a9a9a" stroke-width="1.2"/>
<path d="M411.80,291.00 V398.20 H545.10" stroke="#9a9a9a" stroke-width="1.2" fill="none"/>
<path d="M409.30,291.50 H411.80" stroke="#9a9a9a" stroke-width="1.2"/>
<text x="408.1" y="294.40" text-anchor="end" class="tk">0</text>
<path d="M409.30,318.18 H411.80" stroke="#9a9a9a" stroke-width="1.2"/>
<text x="408.1" y="321.07" text-anchor="end" class="tk">-10</text>
<path d="M409.30,344.85 H411.80" stroke="#9a9a9a" stroke-width="1.2"/>
<text x="408.1" y="347.75" text-anchor="end" class="tk">-20</text>
<path d="M409.30,371.52 H411.80" stroke="#9a9a9a" stroke-width="1.2"/>
<text x="408.1" y="374.42" text-anchor="end" class="tk">-30</text>
<path d="M409.30,398.20 H411.80" stroke="#9a9a9a" stroke-width="1.2"/>
<text x="408.1" y="401.10" text-anchor="end" class="tk">-40</text>
<path d="M410.30,304.84 H411.80" stroke="#9a9a9a" stroke-width="1.2"/>
<path d="M410.30,331.51 H411.80" stroke="#9a9a9a" stroke-width="1.2"/>
<path d="M410.30,358.19 H411.80" stroke="#9a9a9a" stroke-width="1.2"/>
<path d="M410.30,384.86 H411.80" stroke="#9a9a9a" stroke-width="1.2"/>
<path d="M417.69,398.20 V400.70" stroke="#9a9a9a" stroke-width="1.2"/>
<text x="417.69" y="409.00" text-anchor="middle" class="tk">1548.5</text>
<path d="M446.65,398.20 V400.70" stroke="#9a9a9a" stroke-width="1.2"/>
<text x="446.65" y="409.00" text-anchor="middle" class="tk">1549.0</text>
<path d="M475.60,398.20 V400.70" stroke="#9a9a9a" stroke-width="1.2"/>
<text x="475.60" y="409.00" text-anchor="middle" class="tk">1549.5</text>
<path d="M504.56,398.20 V400.70" stroke="#9a9a9a" stroke-width="1.2"/>
<text x="504.56" y="409.00" text-anchor="middle" class="tk">1550.0</text>
<path d="M533.52,398.20 V400.70" stroke="#9a9a9a" stroke-width="1.2"/>
<text x="533.52" y="409.00" text-anchor="middle" class="tk">1550.5</text>
<path d="M432.17,398.20 V399.70" stroke="#9a9a9a" stroke-width="1.2"/>
<path d="M461.13,398.20 V399.70" stroke="#9a9a9a" stroke-width="1.2"/>
<path d="M490.08,398.20 V399.70" stroke="#9a9a9a" stroke-width="1.2"/>
<path d="M519.04,398.20 V399.70" stroke="#9a9a9a" stroke-width="1.2"/>
<text x="100.8" y="275.8" text-anchor="middle" class="al">Wavelength (nm)</text>
<text x="289.6" y="275.8" text-anchor="middle" class="al">Wavelength (nm)</text>
<text x="477.1" y="275.8" text-anchor="middle" class="al">Wavelength (nm)</text>
<text x="100.8" y="422.7" text-anchor="middle" class="al">Wavelength (nm)</text>
<text x="289.6" y="422.7" text-anchor="middle" class="al">Wavelength (nm)</text>
<text x="478.5" y="422.7" text-anchor="middle" class="al">Wavelength (nm)</text>
<text transform="translate(16.8,198.2) rotate(-90)" text-anchor="middle" class="al">Transmission (dB)</text>
<text transform="translate(204.3,196.6) rotate(-90)" text-anchor="middle" class="al">Reflection (dB)</text>
<text transform="translate(393.0,197.2) rotate(-90)" text-anchor="middle" class="al">Transmission (dB)</text>
<text transform="translate(14.8,344.3) rotate(-90)" text-anchor="middle" class="al">Phase (&#960;)</text>
<text transform="translate(202.5,344.3) rotate(-90)" text-anchor="middle" class="al">Phase (&#960;)</text>
<text transform="translate(392.7,344.7) rotate(-90)" text-anchor="middle" class="al">Reflection (dB)</text>
<text x="3.6" y="275.8" class="al">(b-i)</text>
<text x="191.6" y="275.8" class="al">(c-i)</text>
<text x="379.0" y="275.8" class="al">(d-i)</text>
<text x="2.5" y="422.7" class="al">(b-ii)</text>
<text x="189.1" y="422.7" class="al">(c-ii)</text>
<text x="380.2" y="422.7" class="al">(d-ii)</text>
<rect x="16" y="123.3" width="250.5" height="11" fill="none" stroke="#bdbdbd" stroke-width="1"/>
<rect x="281.5" y="123.3" width="260.5" height="11" fill="none" stroke="#bdbdbd" stroke-width="1"/>
<path d="M30.5,129.2 H54.7" stroke="#ff2a2a" stroke-width="1.2"/>
<text x="61" y="132.5" class="lg"><tspan font-style="italic">t</tspan><tspan font-style="italic" font-size="5.5" dy="1.5">i</tspan><tspan dy="-1.5"> = 0.95</tspan></text>
<path d="M109.4,129.2 H133" stroke="#2a2aff" stroke-width="1.2"/>
<text x="140" y="132.5" class="lg"><tspan font-style="italic">t</tspan><tspan font-style="italic" font-size="5.5" dy="1.5">i</tspan><tspan dy="-1.5"> = 0.90</tspan></text>
<path d="M186.7,129.2 H210" stroke="#ffc12a" stroke-width="1.2"/>
<text x="217" y="132.5" class="lg"><tspan font-style="italic">t</tspan><tspan font-style="italic" font-size="5.5" dy="1.5">i</tspan><tspan dy="-1.5"> = 0.85</tspan></text>
<path d="M290.8,129.2 H308" stroke="#2a9a2a" stroke-width="1.2"/>
<text x="310.6" y="132.5" class="lg"><tspan font-style="italic">L</tspan><tspan font-size="5.5" dy="1.5">4</tspan><tspan dy="-1.5"> = 100 &#956;m</tspan></text>
<path d="M369,129.2 H387" stroke="#ff9a3a" stroke-width="1.2"/>
<text x="389" y="132.5" class="lg"><tspan font-style="italic">L</tspan><tspan font-size="5.5" dy="1.5">4</tspan><tspan dy="-1.5"> = 100.09 &#956;m</tspan></text>
<path d="M460.4,129.2 H477.4" stroke="#a040ff" stroke-width="1.2"/>
<text x="479.2" y="132.5" class="lg"><tspan font-style="italic">L</tspan><tspan font-size="5.5" dy="1.5">4</tspan><tspan dy="-1.5"> = 100.3 &#956;m</tspan></text>

</svg>
</body></html>
